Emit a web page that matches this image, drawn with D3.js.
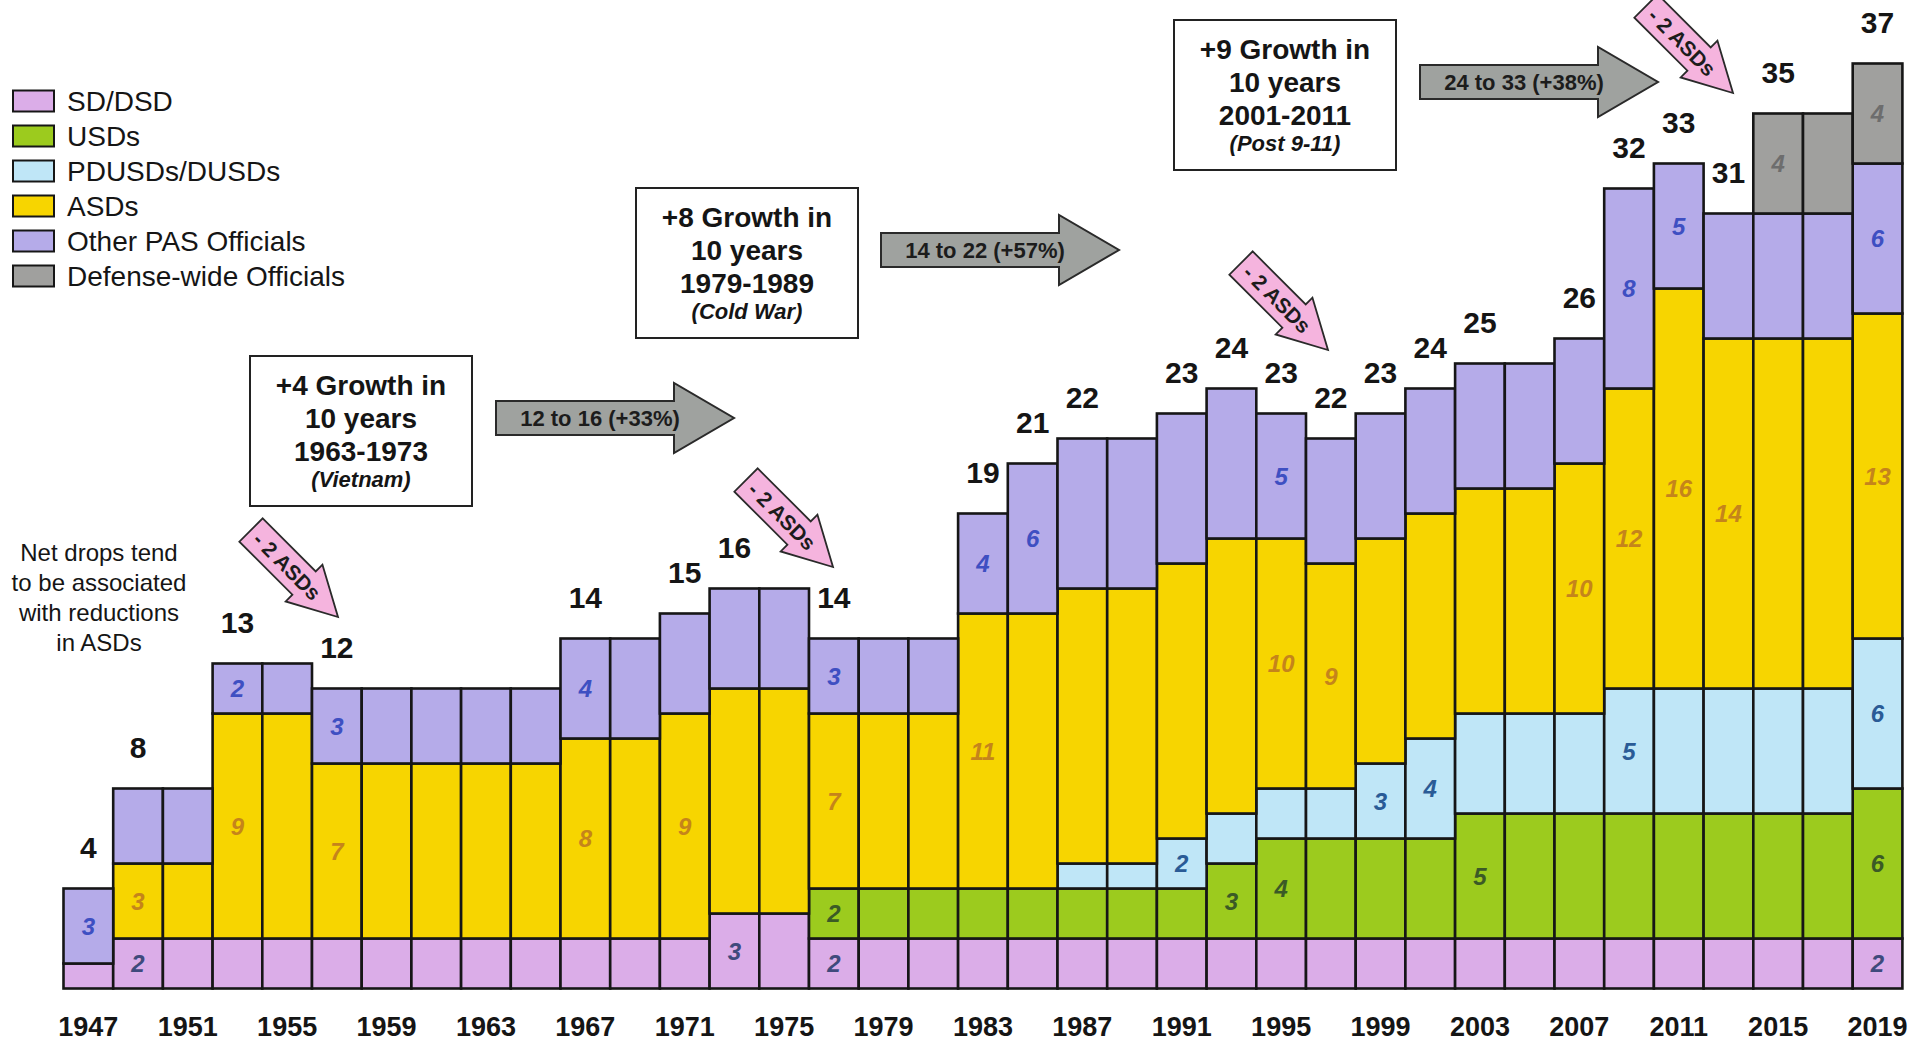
<!DOCTYPE html>
<html>
<head>
<meta charset="utf-8">
<script src="https://cdn.jsdelivr.net/npm/d3@7"></script>
<style>
  body { margin: 0; background: #fff; }
  svg { display: block; font-family: "Liberation Sans", Arial, Helvetica, sans-serif; }
</style>
</head>
<body>
<div class="canvas"></div>
<script>
//bar categories (every second year)
const years = [1947, 1949, 1951, 1953, 1955, 1957, 1959, 1961, 1963, 1965,
               1967, 1969, 1971, 1973, 1975, 1977, 1979, 1981, 1983, 1985,
               1987, 1989, 1991, 1993, 1995, 1997, 1999, 2001, 2003, 2005,
               2007, 2009, 2011, 2013, 2015, 2017, 2019];
const yearTicks = [1947, 1951, 1955, 1959, 1963, 1967, 1971, 1975, 1979, 1983,
                   1987, 1991, 1995, 1999, 2003, 2007, 2011, 2015, 2019];

//series values, one per year
const sdDsd       = [1, 2, 2, 2, 2, 2, 2, 2, 2, 2, 2, 2, 2, 3, 3, 2, 2, 2, 2, 2, 2, 2, 2, 2, 2, 2, 2, 2, 2, 2, 2, 2, 2, 2, 2, 2, 2];
const usds        = [0, 0, 0, 0, 0, 0, 0, 0, 0, 0, 0, 0, 0, 0, 0, 2, 2, 2, 2, 2, 2, 2, 2, 3, 4, 4, 4, 4, 5, 5, 5, 5, 5, 5, 5, 5, 6];
const pdusds      = [0, 0, 0, 0, 0, 0, 0, 0, 0, 0, 0, 0, 0, 0, 0, 0, 0, 0, 0, 0, 1, 1, 2, 2, 2, 2, 3, 4, 4, 4, 4, 5, 5, 5, 5, 5, 6];
const asds        = [0, 3, 3, 9, 9, 7, 7, 7, 7, 7, 8, 8, 9, 9, 9, 7, 7, 7, 11, 11, 11, 11, 11, 11, 10, 9, 9, 9, 9, 9, 10, 12, 16, 14, 14, 14, 13];
const otherPas    = [3, 3, 3, 2, 2, 3, 3, 3, 3, 3, 4, 4, 4, 4, 4, 3, 3, 3, 4, 6, 6, 6, 6, 6, 5, 5, 5, 5, 5, 5, 5, 8, 5, 5, 5, 5, 6];
const defenseWide = [0, 0, 0, 0, 0, 0, 0, 0, 0, 0, 0, 0, 0, 0, 0, 0, 0, 0, 0, 0, 0, 0, 0, 0, 0, 0, 0, 0, 0, 0, 0, 0, 0, 0, 4, 4, 4];

const seriesKeys  = ['sd', 'usd', 'pdusd', 'asd', 'other', 'dw'];
const seriesNames = ['SD/DSD', 'USDs', 'PDUSDs/DUSDs', 'ASDs', 'Other PAS Officials', 'Defense-wide Officials'];

//which segments carry a value label
const sdLabelYears    = [1949, 1973, 1977, 2019];
const usdLabelYears   = [1977, 1993, 1995, 2003, 2019];
const pdusdLabelYears = [1991, 1999, 2001, 2009, 2019];
const asdLabelYears   = [1949, 1953, 1957, 1967, 1971, 1977, 1983, 1995, 1997, 2007, 2009, 2011, 2013, 2019];
const otherLabelYears = [1947, 1953, 1957, 1967, 1977, 1983, 1985, 1995, 2009, 2011, 2019];
const dwLabelYears    = [2015, 2019];

//bars with their total written on top
const totalLabelYears = [1947, 1949, 1953, 1957, 1967, 1971, 1973, 1977, 1983, 1985, 1987,
                         1991, 1993, 1995, 1997, 1999, 2001, 2003, 2007, 2009, 2011, 2013, 2015, 2019];

//annotation texts
const growthLines = [
    ['+4 Growth in', '10 years', '1963-1973', '(Vietnam)'],
    ['+8 Growth in', '10 years', '1979-1989', '(Cold War)'],
    ['+9 Growth in', '10 years', '2001-2011', '(Post 9-11)']
];
const growthArrowText = ['12 to 16 (+33%)', '14 to 22 (+57%)', '24 to 33 (+38%)'];
const dropText = '- 2 ASDs';
const noteLines = ['Net drops tend', 'to be associated', 'with reductions', 'in ASDs'];

//styles
const colors = {
    sd: '#dbade8', usd: '#9ccb1e', pdusd: '#bfe6f7',
    asd: '#f7d500', other: '#b5abe9', dw: '#a0a09e'
};
const labelColors = {
    sd: '#3f4a7c', usd: '#3b5a26', pdusd: '#2a5b96',
    asd: '#c5841b', other: '#3e4fc2', dw: '#6d6d6d'
};
const labelYears = {
    sd: sdLabelYears, usd: usdLabelYears, pdusd: pdusdLabelYears,
    asd: asdLabelYears, other: otherLabelYears, dw: dwLabelYears
};

const dims = { width: 1912, height: 1046 };
const plot = { left: 63.5, right: 1902.4, base: 988.5, unit: 25 };

const svg = d3.select('.canvas')
    .append('svg')
    .attr('width', dims.width)
    .attr('height', dims.height);

//table for the stack
const table = years.map((yr, i) => ({
    year: yr,
    sd: sdDsd[i], usd: usds[i], pdusd: pdusds[i],
    asd: asds[i], other: otherPas[i], dw: defenseWide[i]
}));

const x = d3.scaleBand()
    .domain(years)
    .range([plot.left, plot.right])
    .padding(0);

const yMax = 37;
const y = d3.scaleLinear()
    .domain([0, yMax])
    .range([plot.base, plot.base - yMax * plot.unit]);

const stack = d3.stack().keys(seriesKeys);
const layers = stack(table);

//bars
const graph = svg.append('g');
layers.forEach(layer => {
    graph.append('g')
        .selectAll('rect')
        .data(layer.filter(d => d[1] - d[0] > 0))
        .enter()
        .append('rect')
            .attr('x', d => x(d.data.year))
            .attr('y', d => y(d[1]))
            .attr('width', x.bandwidth())
            .attr('height', d => y(d[0]) - y(d[1]))
            .attr('fill', colors[layer.key])
            .attr('stroke', '#161616')
            .attr('stroke-width', 2.6);
});

//segment value labels
layers.forEach(layer => {
    const keep = labelYears[layer.key];
    graph.append('g')
        .selectAll('text')
        .data(layer.filter(d => keep.includes(d.data.year)))
        .enter()
        .append('text')
            .attr('x', d => x(d.data.year) + x.bandwidth() / 2)
            .attr('y', d => (y(d[0]) + y(d[1])) / 2)
            .attr('dy', '0.36em')
            .attr('text-anchor', 'middle')
            .attr('font-size', 24)
            .attr('font-weight', 'bold')
            .attr('font-style', 'italic')
            .attr('fill', labelColors[layer.key])
            .text(d => d[1] - d[0]);
});

//totals above bars
const topLayer = layers[layers.length - 1];
svg.append('g')
    .selectAll('text')
    .data(topLayer.filter(d => totalLabelYears.includes(d.data.year)))
    .enter()
    .append('text')
        .attr('x', d => x(d.data.year) + x.bandwidth() / 2)
        .attr('y', d => y(d[1]) - 31)
        .attr('text-anchor', 'middle')
        .attr('font-size', 30)
        .attr('font-weight', 'bold')
        .attr('fill', '#151515')
        .text(d => d[1]);

//year axis
const xAxis = d3.axisBottom(x)
    .tickValues(yearTicks)
    .tickSize(0);
const axisG = svg.append('g')
    .attr('transform', `translate(0, ${plot.base})`)
    .call(xAxis);
axisG.select('.domain').remove();
axisG.selectAll('text')
    .attr('y', 47)
    .attr('dy', 0)
    .attr('font-size', 27)
    .attr('font-weight', 'bold')
    .attr('fill', '#151515')
    .attr('font-family', '"Liberation Sans", Arial, sans-serif');

//legend
const legend = svg.append('g').attr('transform', 'translate(13, 101)');
seriesKeys.forEach((k, i) => {
    const row = legend.append('g').attr('transform', `translate(0, ${i * 35})`);
    row.append('rect')
        .attr('x', 0).attr('y', -10.5)
        .attr('width', 41).attr('height', 21)
        .attr('fill', colors[k])
        .attr('stroke', '#161616')
        .attr('stroke-width', 2);
    row.append('text')
        .attr('x', 54).attr('y', 9.5)
        .attr('font-size', 28)
        .attr('fill', '#151515')
        .text(seriesNames[i]);
});

//side note
svg.append('g')
    .selectAll('text')
    .data(noteLines)
    .enter()
    .append('text')
        .attr('x', 99)
        .attr('y', (d, i) => 561 + i * 30)
        .attr('text-anchor', 'middle')
        .attr('font-size', 24)
        .attr('fill', '#151515')
        .text(d => d);

//growth boxes
const boxPos = [{ x: 250, y: 356 }, { x: 636, y: 188 }, { x: 1174, y: 20 }];
const boxW = 222, boxH = 150;
growthLines.forEach((lines, i) => {
    const g = svg.append('g').attr('transform', `translate(${boxPos[i].x}, ${boxPos[i].y})`);
    g.append('rect')
        .attr('width', boxW).attr('height', boxH)
        .attr('fill', '#fff')
        .attr('stroke', '#222')
        .attr('stroke-width', 2);
    lines.forEach((t, j) => {
        const last = j === lines.length - 1;
        g.append('text')
            .attr('x', boxW / 2)
            .attr('y', last ? 131 : 39 + j * 33)
            .attr('text-anchor', 'middle')
            .attr('font-size', last ? 22 : 28)
            .attr('font-weight', 'bold')
            .attr('font-style', last ? 'italic' : 'normal')
            .attr('fill', '#151515')
            .text(t);
    });
});

//grey growth arrows
const grey = { body: 178, head: 60, bodyHalf: 17, headHalf: 35 };
const greyPos = [{ x: 496, y: 418 }, { x: 881, y: 250 }, { x: 1420, y: 82 }];
const greyPath = d3.line()([
    [0, -grey.bodyHalf], [grey.body, -grey.bodyHalf], [grey.body, -grey.headHalf],
    [grey.body + grey.head, 0], [grey.body, grey.headHalf], [grey.body, grey.bodyHalf],
    [0, grey.bodyHalf]
]) + 'Z';
growthArrowText.forEach((t, i) => {
    const g = svg.append('g').attr('transform', `translate(${greyPos[i].x}, ${greyPos[i].y})`);
    g.append('path')
        .attr('d', greyPath)
        .attr('fill', '#9fa29f')
        .attr('stroke', '#2a2a2a')
        .attr('stroke-width', 2);
    g.append('text')
        .attr('x', 104).attr('y', 0)
        .attr('dy', '0.36em')
        .attr('text-anchor', 'middle')
        .attr('font-size', 22)
        .attr('font-weight', 'bold')
        .attr('fill', '#1c1c1c')
        .text(t);
});

//pink drop arrows, placed by their tips
const pink = { len: 123, headAt: 75, bodyHalf: 16.5, headHalf: 26 };
const pinkTips = [[338, 617], [833, 567], [1328, 350], [1733, 93]];
const pinkPath = d3.line()([
    [0, -pink.bodyHalf], [pink.headAt, -pink.bodyHalf], [pink.headAt, -pink.headHalf],
    [pink.len, 0], [pink.headAt, pink.headHalf], [pink.headAt, pink.bodyHalf],
    [0, pink.bodyHalf]
]) + 'Z';
const off = pink.len * Math.SQRT1_2;
pinkTips.forEach(tip => {
    const g = svg.append('g')
        .attr('transform', `translate(${tip[0] - off}, ${tip[1] - off}) rotate(45)`);
    g.append('path')
        .attr('d', pinkPath)
        .attr('fill', '#f5b4de')
        .attr('stroke', '#2a2a2a')
        .attr('stroke-width', 1.8);
    g.append('text')
        .attr('x', 51).attr('y', 0)
        .attr('dy', '0.36em')
        .attr('text-anchor', 'middle')
        .attr('font-size', 21)
        .attr('font-weight', 'bold')
        .attr('fill', '#1c1c1c')
        .text(dropText);
});
</script>
</body>
</html>
